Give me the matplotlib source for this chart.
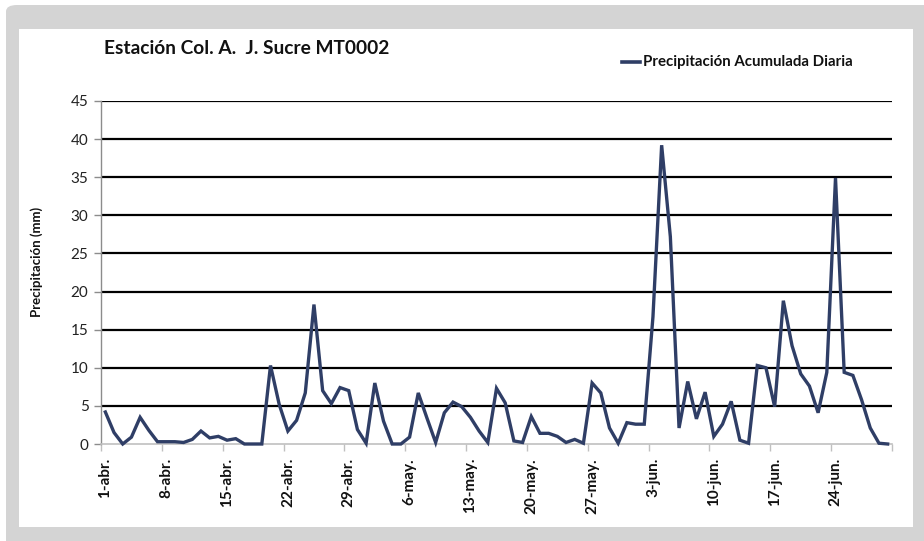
import matplotlib
matplotlib.use("Agg")
import matplotlib.pyplot as plt
from matplotlib.patches import FancyBboxPatch, Rectangle
from matplotlib.lines import Line2D

plt.rcParams['font.family'] = ['Lato', 'DejaVu Sans']

# ---- data ----
title = "Estación Col. A.  J. Sucre MT0002"
series_name = "Precipitación Acumulada Diaria"
y_label = "Precipitación (mm)"
tick_labels = ["1-abr.", "8-abr.", "15-abr.", "22-abr.", "29-abr.", "6-may.",
               "13-may.", "20-may.", "27-may.", "3-jun.", "10-jun.", "17-jun.", "24-jun."]
precip = [4.2, 1.5, 0.0, 0.9, 3.5, 1.8, 0.3, 0.3, 0.3, 0.2,
          0.6, 1.7, 0.8, 1.0, 0.5, 0.7, 0.0, 0.0, 0.0, 10.3,
          5.2, 1.7, 3.1, 6.7, 18.3, 7.0, 5.3, 7.4, 7.0, 1.9,
          0.1, 8.0, 3.0, 0.0, 0.0, 0.9, 6.7, 3.4, 0.2, 4.1,
          5.5, 4.9, 3.5, 1.7, 0.2, 7.3, 5.4, 0.4, 0.2, 3.6,
          1.4, 1.4, 1.0, 0.2, 0.6, 0.1, 8.0, 6.7, 2.1, 0.1,
          2.8, 2.6, 2.6, 16.7, 39.2, 27.2, 2.1, 8.2, 3.3, 6.8,
          1.0, 2.6, 5.6, 0.5, 0.1, 10.3, 10.0, 4.9, 18.8, 12.9,
          9.2, 7.6, 4.1, 9.4, 34.9, 9.4, 9.0, 5.8, 2.1, 0.1,
          0.0]
y_ticks = [0, 5, 10, 15, 20, 25, 30, 35, 40, 45]

W, H = 924, 541
fig = plt.figure(figsize=(W / 100, H / 100), dpi=100)
fig.patch.set_facecolor('white')

def fx(px):
    return px / W

def fy(py):
    return 1 - py / H

# outer gray rounded frame and inner white panel
gray = FancyBboxPatch((fx(6), fy(560)), fx(940 - 6), fy(5) - fy(560),
                      boxstyle="round,pad=0,rounding_size=0.012",
                      transform=fig.transFigure, facecolor='#d4d4d4',
                      edgecolor='none', zorder=0)
fig.patches.append(gray)
white = Rectangle((fx(19), fy(527)), fx(913 - 19), fy(29) - fy(527),
                  transform=fig.transFigure, facecolor='white',
                  edgecolor='none', zorder=0.5)
fig.patches.append(white)

ax = fig.add_axes([fx(101), fy(444), fx(892 - 101), fy(101) - fy(444)])
ax.set_zorder(2)
ax.set_facecolor('none')

n = len(precip)
x = list(range(n))
ax.plot(x, precip, color='#2f3e66', lw=2.4, solid_joinstyle='miter', zorder=3,
        clip_on=False)

ax.set_xlim(-0.5, n - 0.5)
ax.set_ylim(0, 45)

# gridlines
ax.set_yticks(y_ticks)
for v in y_ticks[1:]:
    ax.axhline(v, color='black', lw=1.6, zorder=1)
ax.tick_params(axis='y', direction='out', length=5, width=1, color='#8c8c8c',
               labelsize=11, pad=4, labelcolor='#222222')

# x ticks: marks every 7 days between categories, labels at category centres
major = [-0.5 + 7 * k for k in range(n // 7 + 1)]
ax.set_xticks(major)
ax.set_xticklabels([''] * len(major))
ax.tick_params(axis='x', which='major', direction='out', length=5, width=1,
               color='#c0c0c0')
minor = [7 * k for k in range(len(tick_labels))]
ax.set_xticks(minor, minor=True)
ax.set_xticklabels(tick_labels, minor=True, rotation=90, fontsize=11,
                   fontweight='bold', color='#111111')
ax.tick_params(axis='x', which='minor', length=0, pad=10)

for s in ['top', 'right']:
    ax.spines[s].set_visible(False)
ax.spines['left'].set_color('#8c8c8c')
ax.spines['left'].set_linewidth(1)
ax.spines['bottom'].set_color('#c0c0c0')
ax.spines['bottom'].set_linewidth(1.2)

# title, legend, y label
fig.text(fx(104), fy(48), title, fontsize=13.8, fontweight='bold',
         ha='left', va='center', color='#111111')
fig.add_artist(Line2D([fx(622), fx(640)], [fy(62), fy(62)],
                      color='#2f3e66', lw=2.6, transform=fig.transFigure))
fig.text(fx(643), fy(62), series_name, fontsize=10.8, fontweight='bold',
         ha='left', va='center', color='#111111')
fig.text(fx(37), fy(262), y_label, fontsize=9.5, fontweight='bold', rotation=90,
         ha='center', va='center', color='#111111')

fig.savefig('out.png', dpi=100, facecolor='white')
